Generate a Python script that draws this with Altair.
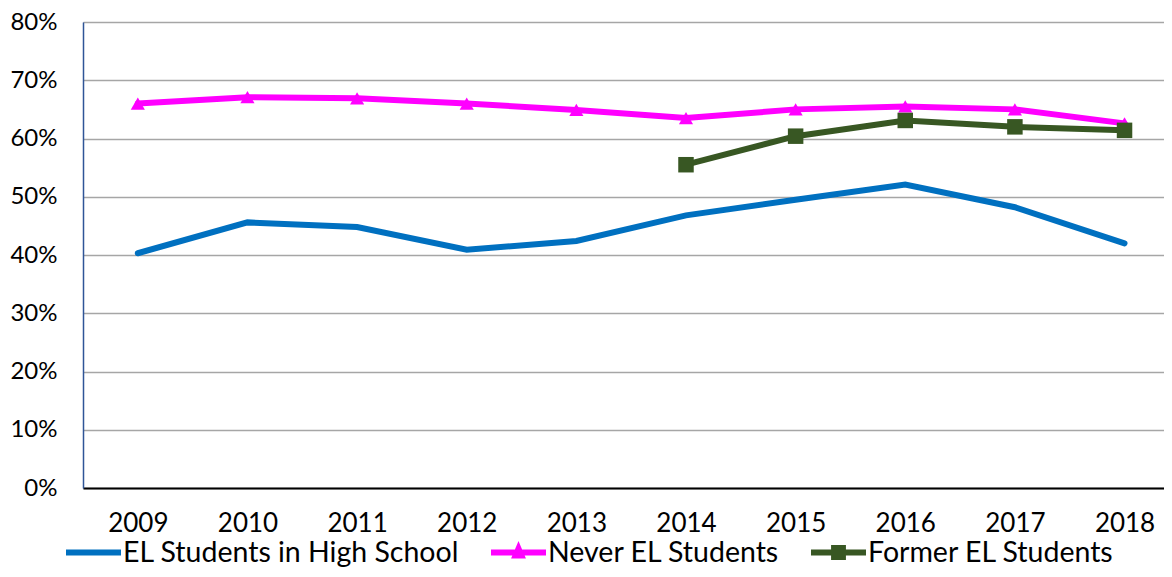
import altair as alt
import pandas as pd

years = [2009, 2010, 2011, 2012, 2013, 2014, 2015, 2016, 2017, 2018]
el_hs = [0.403, 0.456, 0.448, 0.409, 0.424, 0.468, 0.495, 0.521, 0.482, 0.420]
never_el = [0.660, 0.671, 0.669, 0.660, 0.649, 0.635, 0.650, 0.655, 0.650, 0.626]
former_years = [2014, 2015, 2016, 2017, 2018]
former_el = [0.555, 0.604, 0.631, 0.620, 0.614]

series_names = ["EL Students in High School", "Never EL Students", "Former EL Students"]
series_colors = ["#0070C0", "#FF00FF", "#385723"]

rows = []
for y, v in zip(years, el_hs):
    rows.append({"year": y, "series": series_names[0], "value": v})
for y, v in zip(years, never_el):
    rows.append({"year": y, "series": series_names[1], "value": v})
for y, v in zip(former_years, former_el):
    rows.append({"year": y, "series": series_names[2], "value": v})
df = pd.DataFrame(rows)

FONT = "Lato"

LINE = "M-1,-0.11H1V0.11H-1Z"
TRI = LINE + " M0,-0.42L0.27,0.22H-0.27Z"
SQR = LINE + " M-0.27,-0.27H0.27V0.27H-0.27Z"

# legend scale (normal order) and drawing scales (different domain order so the
# disabled legends of the drawn layers are not merged with the visible one)
color_scale = alt.Scale(domain=series_names, range=series_colors)
stroke_scale = alt.Scale(domain=series_names[::-1], range=series_colors[::-1])
fill_scale = alt.Scale(domain=series_names[1:], range=series_colors[1:])

x_enc = alt.X(
    "year:Q",
    scale=alt.Scale(domain=[2008.5, 2018.36], nice=False, zero=False),
    axis=alt.Axis(
        values=years, format="d", title=None, grid=False, ticks=False,
        labelFont=FONT, labelFontSize=26, labelColor="black", labelPadding=22,
        domainColor="black", domainWidth=2, labelFlush=False,
    ),
)
y_enc = alt.Y(
    "value:Q",
    scale=alt.Scale(domain=[0, 0.8], nice=False),
    axis=alt.Axis(
        values=[0, 0.1, 0.2, 0.3, 0.4, 0.5, 0.6, 0.7, 0.8], format=".0%", title=None,
        ticks=False, labelFont=FONT, labelFontSize=24, labelColor="black", labelPadding=26,
        domainColor="#2F5597", domainWidth=1.5, gridColor="#A6A6A6", gridWidth=1.5,
    ),
)

legend_def = alt.Legend(
    title=None, orient="none", legendX=-17, legendY=503, direction="horizontal",
    symbolSize=3025, labelFont=FONT, labelFontSize=28.5, labelColor="black",
    labelOffset=2, columnPadding=31, symbolStrokeWidth=0, symbolOpacity=1,
    labelLimit=600,
)

lines = alt.Chart(df).mark_line(strokeWidth=6, strokeCap="round").encode(
    x=x_enc,
    y=y_enc,
    stroke=alt.Stroke("series:N", scale=stroke_scale, legend=None),
    detail="series:N",
)

tri_pts = alt.Chart(df).transform_filter(
    alt.datum.series == series_names[1]
).mark_point(filled=True, opacity=1, shape="triangle-up", size=200).encode(
    x=x_enc,
    y=y_enc,
    fill=alt.Fill("series:N", scale=fill_scale, legend=None),
)

sq_pts = alt.Chart(df).transform_filter(
    alt.datum.series == series_names[2]
).mark_point(filled=True, opacity=1, shape="square", size=240).encode(
    x=x_enc,
    y=y_enc,
    fill=alt.Fill("series:N", scale=fill_scale, legend=None),
)

# invisible layer that only carries the legend (line + marker symbols)
legend_layer = alt.Chart(df).mark_point(filled=True, opacity=0).encode(
    x=x_enc,
    y=y_enc,
    color=alt.Color("series:N", scale=color_scale, legend=legend_def),
    shape=alt.Shape(
        "series:N",
        scale=alt.Scale(domain=series_names, range=[LINE, TRI, SQR]),
        legend=legend_def,
    ),
)

chart = alt.layer(lines, tri_pts, sq_pts, legend_layer).properties(
    width=1081,
    height=466,
    autosize=alt.AutoSizeParams(type="none"),
    padding={"left": 75, "top": 14, "right": 0, "bottom": 81},
).configure_view(stroke=None).configure(background="white")

chart.save("out.html", embed_options={"renderer": "svg", "actions": False})
